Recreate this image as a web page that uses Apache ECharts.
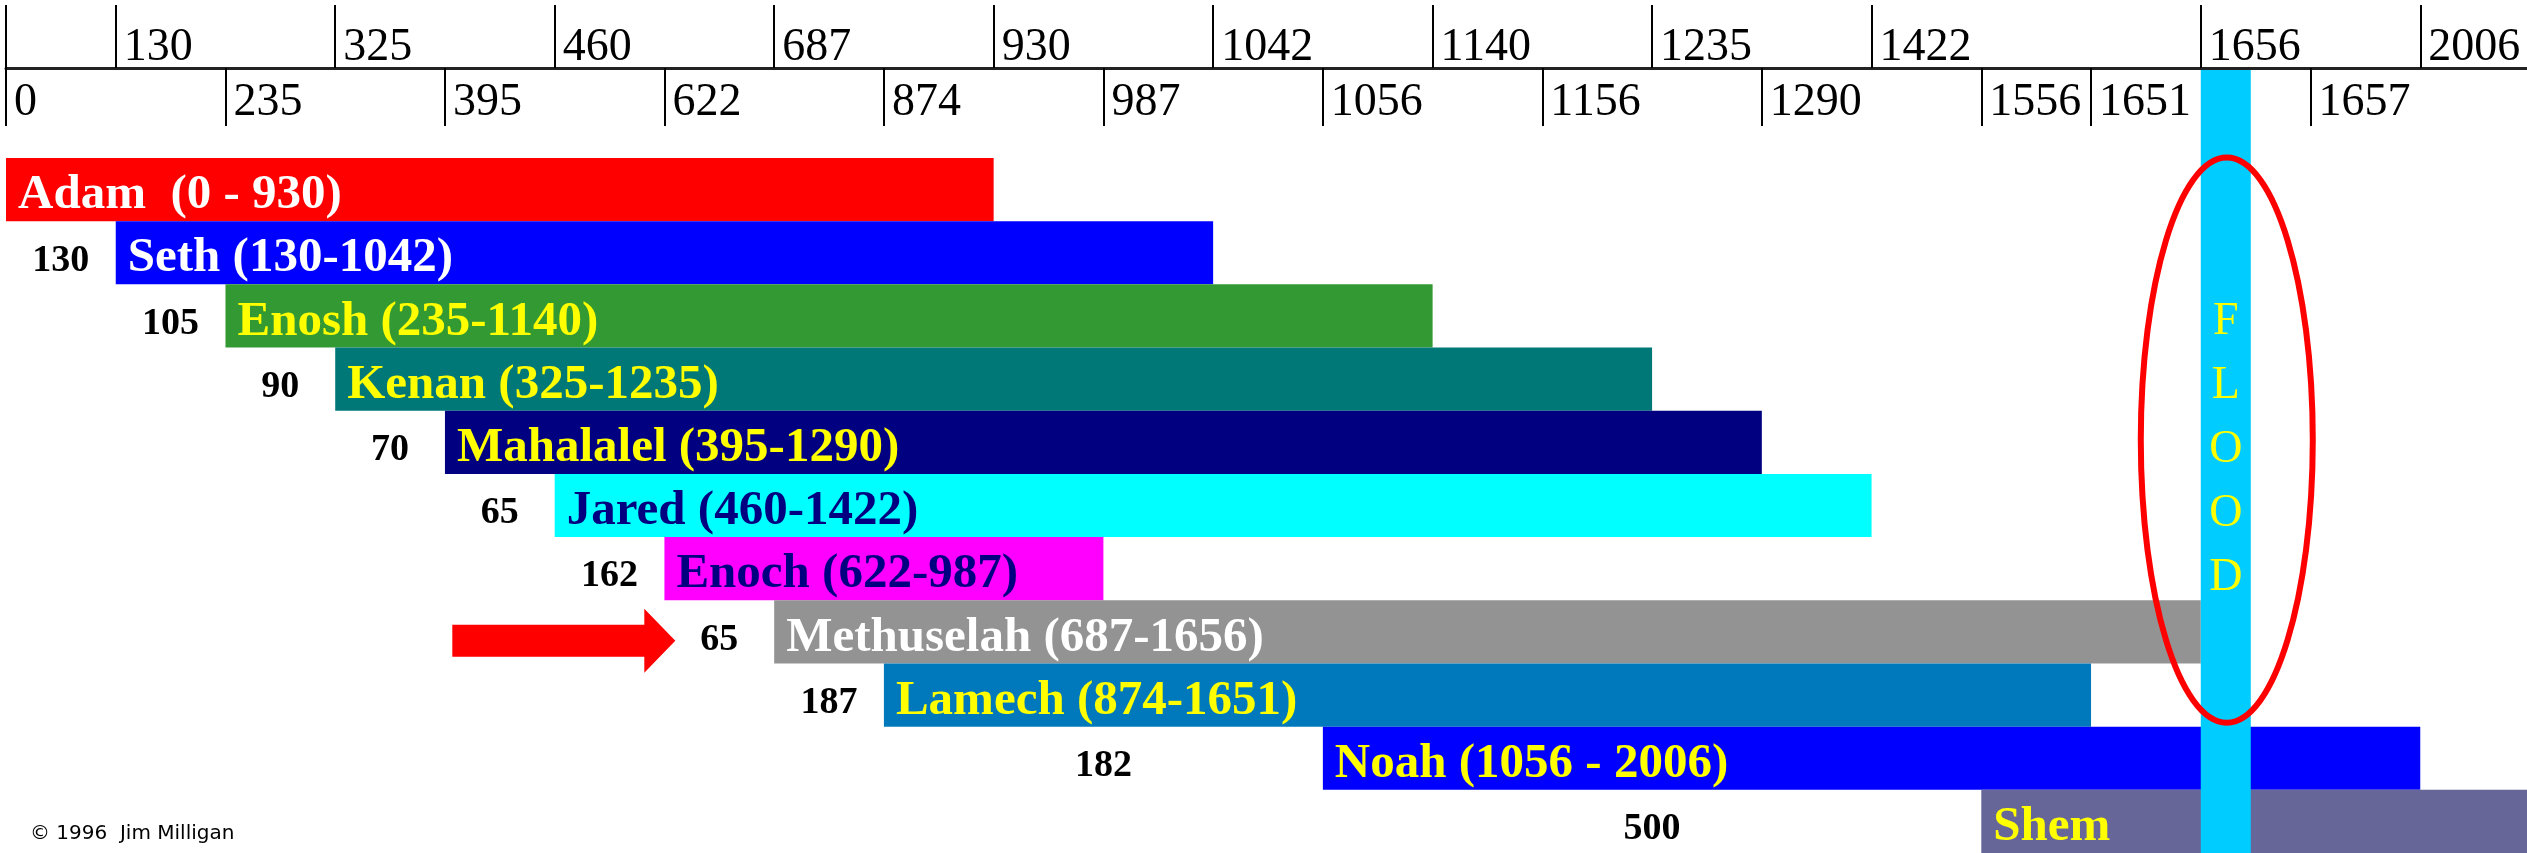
<!DOCTYPE html>
<html><head><meta charset="utf-8">
<script src="https://cdn.jsdelivr.net/npm/echarts@6/dist/echarts.min.js"></script>
<style>html,body{margin:0;padding:0;background:#fff;overflow:hidden}#c{width:2527px;height:853px}</style>
</head><body><div id="c"></div>
<script>
// ---- data ----
const names      = ['Adam','Seth','Enosh','Kenan','Mahalalel','Jared','Enoch','Methuselah','Lamech','Noah','Shem'];
const births     = [0, 130, 235, 325, 395, 460, 622, 687, 874, 1056, 1556];
const deaths     = [930, 1042, 1140, 1235, 1290, 1422, 987, 1656, 1651, 2006, 2156];
const fatherAge  = [null, 130, 105, 90, 70, 65, 162, 65, 187, 182, 500];
const barLabels  = ['Adam  (0 - 930)','Seth (130-1042)','Enosh (235-1140)','Kenan (325-1235)','Mahalalel (395-1290)',
                    'Jared (460-1422)','Enoch (622-987)','Methuselah (687-1656)','Lamech (874-1651)','Noah (1056 - 2006)','Shem'];
const topTickLabels    = [130, 325, 460, 687, 930, 1042, 1140, 1235, 1422, 1656, 2006];
const bottomTickLabels = [0, 235, 395, 622, 874, 987, 1056, 1156, 1290, 1556, 1651, 1657];
const floodYear  = 1656;
const floodText  = 'F\nL\nO\nO\nD';
const arrowTarget = 'Methuselah';
const copyright  = '\u00A9 1996  Jim Milligan';

// ---- styles ----
const barColors  = ['#FF0000','#0000FF','#339933','#007878','#000080','#00FFFF','#FF00FF','#939393','#0079BC','#0000FF','#666699'];
const textColors = ['#FFFFFF','#FFFFFF','#FFFF00','#FFFF00','#FFFF00','#000080','#000080','#FFFFFF','#FFFF00','#FFFF00','#FFFF00'];
const SERIF = '"Liberation Serif", "Times New Roman", serif';

// ordinal timeline (the chart's axis is ordered by event, not proportional to years)
const timeline = Array.from(new Set([...topTickLabels, ...bottomTickLabels, ...births, ...deaths])).sort((a,b)=>a-b);
const cats = timeline.map(String);
const idx = y => timeline.indexOf(y);
const topTickSet = new Set([timeline[0], ...topTickLabels]);
const topLabelSet = new Set(topTickLabels);
const botSet = new Set(bottomTickLabels);

const barData = names.map((n,i)=>[idx(births[i]), idx(deaths[i]), i]);

const chart = echarts.init(document.getElementById('c'), null, {renderer:'canvas'});
chart.setOption({
  animation: false,
  backgroundColor: '#fff',
  grid: [
    {left: 6, right: -3, top: 68, bottom: 0, outerBoundsMode: 'none'},
    {left: 6, right: -3, top: 68, bottom: 0, outerBoundsMode: 'none'},
    {left: 6, right: -3, top: 158, bottom: 0, outerBoundsMode: 'none'}
  ],
  xAxis: [
    { type:'category', gridIndex:0, position:'top', data: cats, boundaryGap:false,
      axisLine:{show:true, onZero:false, lineStyle:{color:'#222', width:3}},
      axisTick:{show:true, inside:false, length:63, lineStyle:{color:'#000', width:2},
        interval:(i,v)=>topTickSet.has(+v)},
      axisLabel:{show:true, inside:false, margin:-3, align:'left', verticalAlign:'bottom', padding:[0,0,0,8],
        fontFamily:SERIF, fontSize:46, color:'#000', hideOverlap:false,
        interval:(i,v)=>topLabelSet.has(+v)},
      splitLine:{show:false} },
    { type:'category', gridIndex:1, position:'top', data: cats, boundaryGap:false,
      axisLine:{show:false, onZero:false},
      axisTick:{show:true, inside:true, length:58, lineStyle:{color:'#000', width:2},
        interval:(i,v)=>botSet.has(+v)},
      axisLabel:{show:true, inside:true, margin:12, align:'left', verticalAlign:'top', padding:[0,0,0,8],
        fontFamily:SERIF, fontSize:46, color:'#000', hideOverlap:false,
        interval:(i,v)=>botSet.has(+v)},
      splitLine:{show:false} },
    { type:'category', gridIndex:2, data: cats, boundaryGap:false, show:false }
  ],
  yAxis: [
    { type:'value', gridIndex:0, min:0, max:1, show:false },
    { type:'value', gridIndex:1, min:0, max:1, show:false },
    { type:'category', gridIndex:2, data: names, inverse:true, show:false }
  ],
  graphic: [
    { type:'text', left: 30, top: 824, z: 20,
      style:{ text: copyright, font: '20px "DejaVu Sans", sans-serif', fill:'#000' } }
  ],
  series: [
    { type:'custom', name:'lifespans', xAxisIndex:2, yAxisIndex:2, z:2,
      encode:{x:[0,1], y:2},
      data: barData,
      renderItem(params, api){
        const i = params.dataIndex;
        const row = api.value(2);
        const s = api.coord([api.value(0), row]);
        const e = api.coord([api.value(1), row]);
        const h = api.size([0,1])[1];
        const children = [
          { type:'rect', shape:{x:s[0], y:s[1]-h/2, width:e[0]-s[0], height:h},
            style:{fill: barColors[i]} },
          { type:'text', x: s[0]+12, y: s[1]+6,
            style:{ text: barLabels[i], font: 'bold 49px ' + SERIF, fill: textColors[i],
                    align:'left', verticalAlign:'middle' } }
        ];
        if (fatherAge[i] != null) {
          const p = api.coord([idx(births[i-1]), row]);
          const mx = (p[0] + s[0]) / 2;
          children.push({ type:'text', x: mx, y: s[1]+8,
            style:{ text: String(fatherAge[i]), font: 'bold 38px ' + SERIF, fill:'#000',
                    align:'center', verticalAlign:'middle' } });
          if (names[i] === arrowTarget) {
            const tip = mx - 44, cy = s[1] + 9;
            children.push({ type:'polygon', shape:{ points:[
              [tip-223, cy-16],[tip-31, cy-16],[tip-31, cy-32],[tip, cy],[tip-31, cy+32],[tip-31, cy+16],[tip-223, cy+16]
            ]}, style:{fill:'#FF0000'} });
          }
        }
        return { type:'group', children };
      }
    },
    { type:'custom', name:'flood', xAxisIndex:0, yAxisIndex:0, z:10,
      encode:{x:0},
      data: [[idx(floodYear)]],
      renderItem(params, api){
        const top = api.coord([api.value(0), 1]);
        const bot = api.coord([api.value(0), 0]);
        const H = bot[1] - top[1];
        const w = 50, cx = top[0] + w/2;
        return { type:'group', children:[
          { type:'rect', shape:{x: top[0], y: top[1]+2, width: w, height: H}, style:{fill:'#00CCFF'} },
          { type:'text', x: cx, y: top[1] + H*0.487,
            style:{ text: floodText, font: '46px ' + SERIF, fill:'#FFFF00', lineHeight: 64,
                    align:'center', verticalAlign:'middle' } },
          { type:'ellipse', shape:{cx: cx+1, cy: top[1] + H*0.474, rx: 86, ry: H*0.36},
            style:{fill:'none', stroke:'#FF0000', lineWidth:6} }
        ]};
      }
    }
  ]
});
</script></body></html>
